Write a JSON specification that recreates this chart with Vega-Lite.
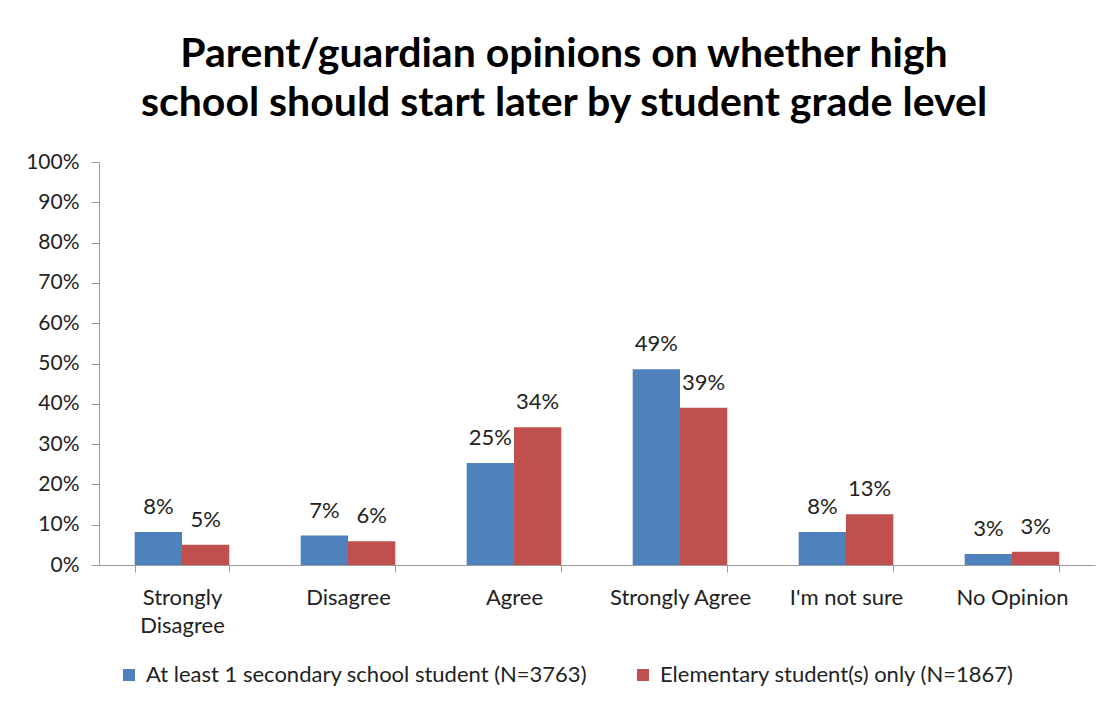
{
  "$schema": "https://vega.github.io/schema/vega-lite/v6.json",
  "width": 996,
  "height": 403,
  "autosize": "none",
  "padding": {"left": 99, "top": 162, "right": 16, "bottom": 145},
  "background": "white",
  "title": {
    "text": ["Parent/guardian opinions on whether high", "school should start later by student grade level"],
    "font": "Lato",
    "fontWeight": "bold",
    "fontSize": 41,
    "lineHeight": 49,
    "color": "#000000",
    "anchor": "middle",
    "dx": -33,
    "dy": 50,
    "baseline": "alphabetic",
    "offset": 44
  },
  "data": {
    "values": [
      {"response": "Strongly Disagree", "group": "At least 1 secondary school student (N=3763)", "value": 0.082},
      {"response": "Strongly Disagree", "group": "Elementary student(s) only (N=1867)", "value": 0.05},
      {"response": "Disagree", "group": "At least 1 secondary school student (N=3763)", "value": 0.073},
      {"response": "Disagree", "group": "Elementary student(s) only (N=1867)", "value": 0.059},
      {"response": "Agree", "group": "At least 1 secondary school student (N=3763)", "value": 0.253},
      {"response": "Agree", "group": "Elementary student(s) only (N=1867)", "value": 0.342},
      {"response": "Strongly Agree", "group": "At least 1 secondary school student (N=3763)", "value": 0.486},
      {"response": "Strongly Agree", "group": "Elementary student(s) only (N=1867)", "value": 0.39},
      {"response": "I'm not sure", "group": "At least 1 secondary school student (N=3763)", "value": 0.082},
      {"response": "I'm not sure", "group": "Elementary student(s) only (N=1867)", "value": 0.126},
      {"response": "No Opinion", "group": "At least 1 secondary school student (N=3763)", "value": 0.027},
      {"response": "No Opinion", "group": "Elementary student(s) only (N=1867)", "value": 0.033}
    ]
  },
  "encoding": {
    "x": {
      "field": "response",
      "type": "nominal",
      "sort": ["Strongly Disagree", "Disagree", "Agree", "Strongly Agree", "I'm not sure", "No Opinion"],
      "scale": {"paddingInner": 0.43, "paddingOuter": 0.215},
      "axis": {
        "title": null,
        "labelAngle": 0,
        "labelFont": "Lato",
        "labelFontSize": 22,
        "labelColor": "#222222",
        "labelLineHeight": 28,
        "labelPadding": 15,
        "labelExpr": "datum.value == 'Strongly Disagree' ? ['Strongly', 'Disagree'] : datum.value",
        "tickBand": "extent",
        "tickSize": 7,
        "tickColor": "#9a9a9a",
        "domainColor": "#9a9a9a",
        "labelLimit": 0
      }
    },
    "xOffset": {
      "field": "group",
      "type": "nominal",
      "sort": ["At least 1 secondary school student (N=3763)", "Elementary student(s) only (N=1867)"],
      "scale": {"paddingInner": 0, "paddingOuter": 0}
    },
    "y": {
      "field": "value",
      "type": "quantitative",
      "scale": {"domain": [0, 1]},
      "axis": {
        "title": null,
        "grid": false,
        "format": ".0%",
        "values": [0, 0.1, 0.2, 0.3, 0.4, 0.5, 0.6, 0.7, 0.8, 0.9, 1],
        "labelFont": "Lato",
        "labelFontSize": 21,
        "labelColor": "#222222",
        "labelPadding": 12,
        "tickSize": 8,
        "tickColor": "#9a9a9a",
        "domainColor": "#9a9a9a"
      }
    }
  },
  "layer": [
    {
      "mark": {"type": "bar"},
      "encoding": {
        "color": {
          "field": "group",
          "type": "nominal",
          "scale": {
            "domain": ["At least 1 secondary school student (N=3763)", "Elementary student(s) only (N=1867)"],
            "range": ["#4F81BD", "#C0504D"]
          },
          "legend": {
            "orient": "none",
            "legendX": 19,
            "legendY": 502,
            "direction": "horizontal",
            "title": null,
            "padding": 0,
            "symbolType": "square",
            "symbolSize": 144,
            "symbolStrokeWidth": 0,
            "labelFont": "Lato",
            "labelFontSize": 22,
            "labelColor": "#222222",
            "labelOffset": 6,
            "columnPadding": 44,
            "labelLimit": 0
          }
        }
      }
    },
    {
      "mark": {"type": "text", "baseline": "alphabetic", "dy": -18, "font": "Lato", "fontSize": 22, "color": "#222222"},
      "encoding": {
        "text": {"field": "value", "type": "quantitative", "format": ".0%"}
      }
    }
  ],
  "config": {"view": {"stroke": null}}
}
